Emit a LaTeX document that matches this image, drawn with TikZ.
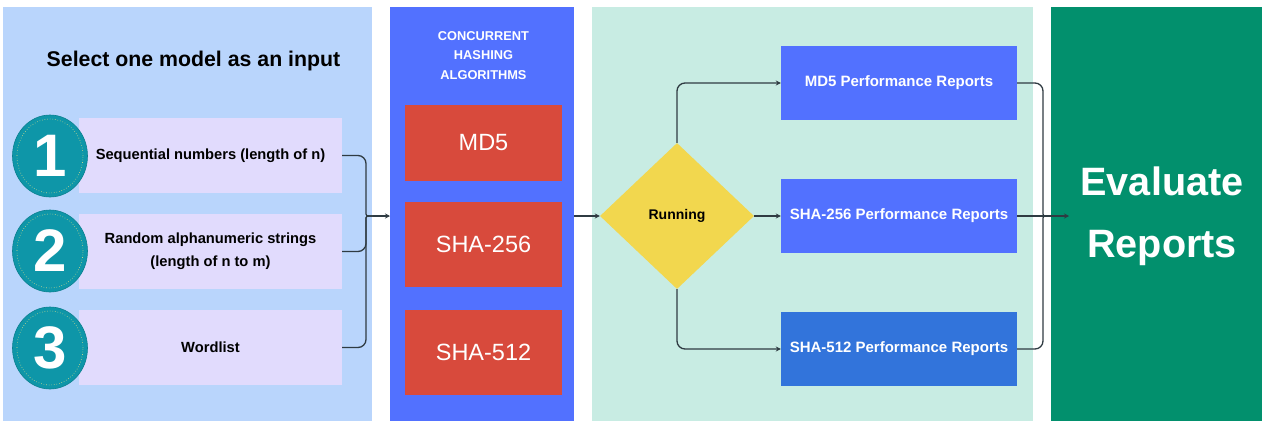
\documentclass[tikz,border=0pt]{standalone}
\usepackage{fontspec}
\setmainfont{Liberation Sans}
\usetikzlibrary{shapes.geometric,arrows.meta}

\definecolor{inputbg}{HTML}{B9D5FC}
\definecolor{optbg}{HTML}{E1DBFD}
\definecolor{badgefill}{HTML}{0E96A8}
\definecolor{ringclr}{HTML}{D3DC8C}
\definecolor{algbg}{HTML}{5271FF}
\definecolor{algfill}{HTML}{D84A3C}
\definecolor{runbg}{HTML}{C8ECE3}
\definecolor{runfill}{HTML}{F2D74E}
\definecolor{repfill}{HTML}{5271FF}
\definecolor{repdark}{HTML}{3274DB}
\definecolor{evalbg}{HTML}{02906D}
\definecolor{lineclr}{HTML}{2F3B42}

\begin{document}
\begin{tikzpicture}[x=1pt, y=-1pt,
    panel/.style={rectangle, inner sep=0pt, anchor=north west},
    optbox/.style={rectangle, fill=optbg, minimum width=263pt, minimum height=75pt, align=center,
      font=\fontsize{14.7}{22.7}\selectfont\bfseries},
    badge/.style={ellipse, fill=badgefill, draw=badgefill!85!black, line width=0.6pt, minimum width=75pt,
      minimum height=82pt, inner sep=0pt, text=white, font=\fontsize{60}{60}\selectfont\bfseries},
    ring/.style={ringclr, dotted, line width=0.6pt},
    algbox/.style={rectangle, fill=algfill, minimum width=157pt, minimum height=85pt, text=white,
      font=\fontsize{23.5}{26}\selectfont},
    repbox/.style={rectangle, fill=repfill, minimum width=236pt, minimum height=74pt, text=white,
      font=\fontsize{15}{18}\selectfont\bfseries},
    link/.style={lineclr, line width=1.3pt},
    arrow/.style={link, -{Stealth[length=5pt,width=5pt]}}]
  \useasboundingbox (0,0) rectangle (1262,421);

  % panels
  \node[panel, fill=inputbg, minimum width=369pt, minimum height=414pt] (inputs) at (3,7) {};
  \node[panel, fill=algbg, minimum width=184pt, minimum height=414pt] (algs) at (390,7) {};
  \node[panel, fill=runbg, minimum width=441pt, minimum height=414pt] (runs) at (592,7) {};
  \node[panel, fill=evalbg, minimum width=211pt, minimum height=414pt] (evals) at (1051,7) {};

  % inputs
  \node[font=\fontsize{21.3}{25}\selectfont\bfseries] (title) at (193.5,61) {Select one model as an input};
  \node[optbox] (opt1) at (210.5,155.5) {Sequential numbers (length of n)};
  \node[optbox] (opt2) at (210.5,251.5) {Random alphanumeric strings\\(length of n to m)};
  \node[optbox] (opt3) at (210.5,347.5) {Wordlist};
  \foreach \k/\yy in {1/156, 2/251, 3/348} {
    \node[badge] (num\k) at (50,\yy) {\k};
    \draw[ring] (num\k.center) ellipse [x radius=33pt, y radius=37pt];
  }

  % brace into algorithms
  \coordinate (bl) at (366,216);
  \coordinate (jl) at (373,216);
  \draw[link, rounded corners=8pt] (opt1.east) -| ([yshift=10pt]bl) .. controls (bl) .. (jl);
  \draw[link, rounded corners=8pt] (opt2.east) -| ([yshift=-10pt]bl) .. controls (bl) .. (jl);
  \draw[link, rounded corners=8pt] (opt3.east) -| ([yshift=-10pt]bl) .. controls (bl) .. (jl);
  \draw[arrow] (jl) -- (jl -| algs.west);

  % algorithms
  \node[text=white, align=center, font=\fontsize{12.8}{19.5}\selectfont\bfseries] (head) at (483.5,55.5)
    {CONCURRENT\\HASHING\\ALGORITHMS};
  \node[algbox, minimum height=76pt] (md5) at (483.5,143) {MD5};
  \node[algbox] (sha256) at (483.5,244.5) {SHA-256};
  \node[algbox] (sha512) at (483.5,352) {SHA-512};

  % running
  \node[diamond, aspect=1, fill=runfill, minimum width=154pt, minimum height=146pt, inner sep=0pt,
    font=\fontsize{14}{16}\selectfont\bfseries] (run) at (677,216) {Running};
  \draw[arrow] (run.west -| algs.east) -- (run.west);
  \node[repbox] (rep1) at (899,83) {MD5 Performance Reports};
  \node[repbox] (rep2) at (899,216) {SHA-256 Performance Reports};
  \node[repbox, fill=repdark] (rep3) at (899,349) {SHA-512 Performance Reports};
  \draw[arrow, rounded corners=8pt] (run.north) |- (rep1.west);
  \draw[arrow] (run.east) -- (rep2.west);
  \draw[arrow, rounded corners=8pt] (run.south) |- (rep3.west);

  % brace into evaluation
  \coordinate (br) at (1043,216);
  \coordinate (jr) at (1049,216);
  \coordinate (tipr) at (1069,216);
  \draw[link, rounded corners=8pt] (rep1.east) -| ([yshift=10pt]br) .. controls (br) .. (jr);
  \draw[link] (rep2.east) -- (jr);
  \draw[link, rounded corners=8pt] (rep3.east) -| ([yshift=-10pt]br) .. controls (br) .. (jr);
  \draw[arrow] (jr) -- (tipr);

  % evaluate
  \node[text=white, align=center, font=\fontsize{39.6}{62}\selectfont\bfseries] (evtxt) at (1162,216)
    {Evaluate\\Reports};
\end{tikzpicture}
\end{document}
